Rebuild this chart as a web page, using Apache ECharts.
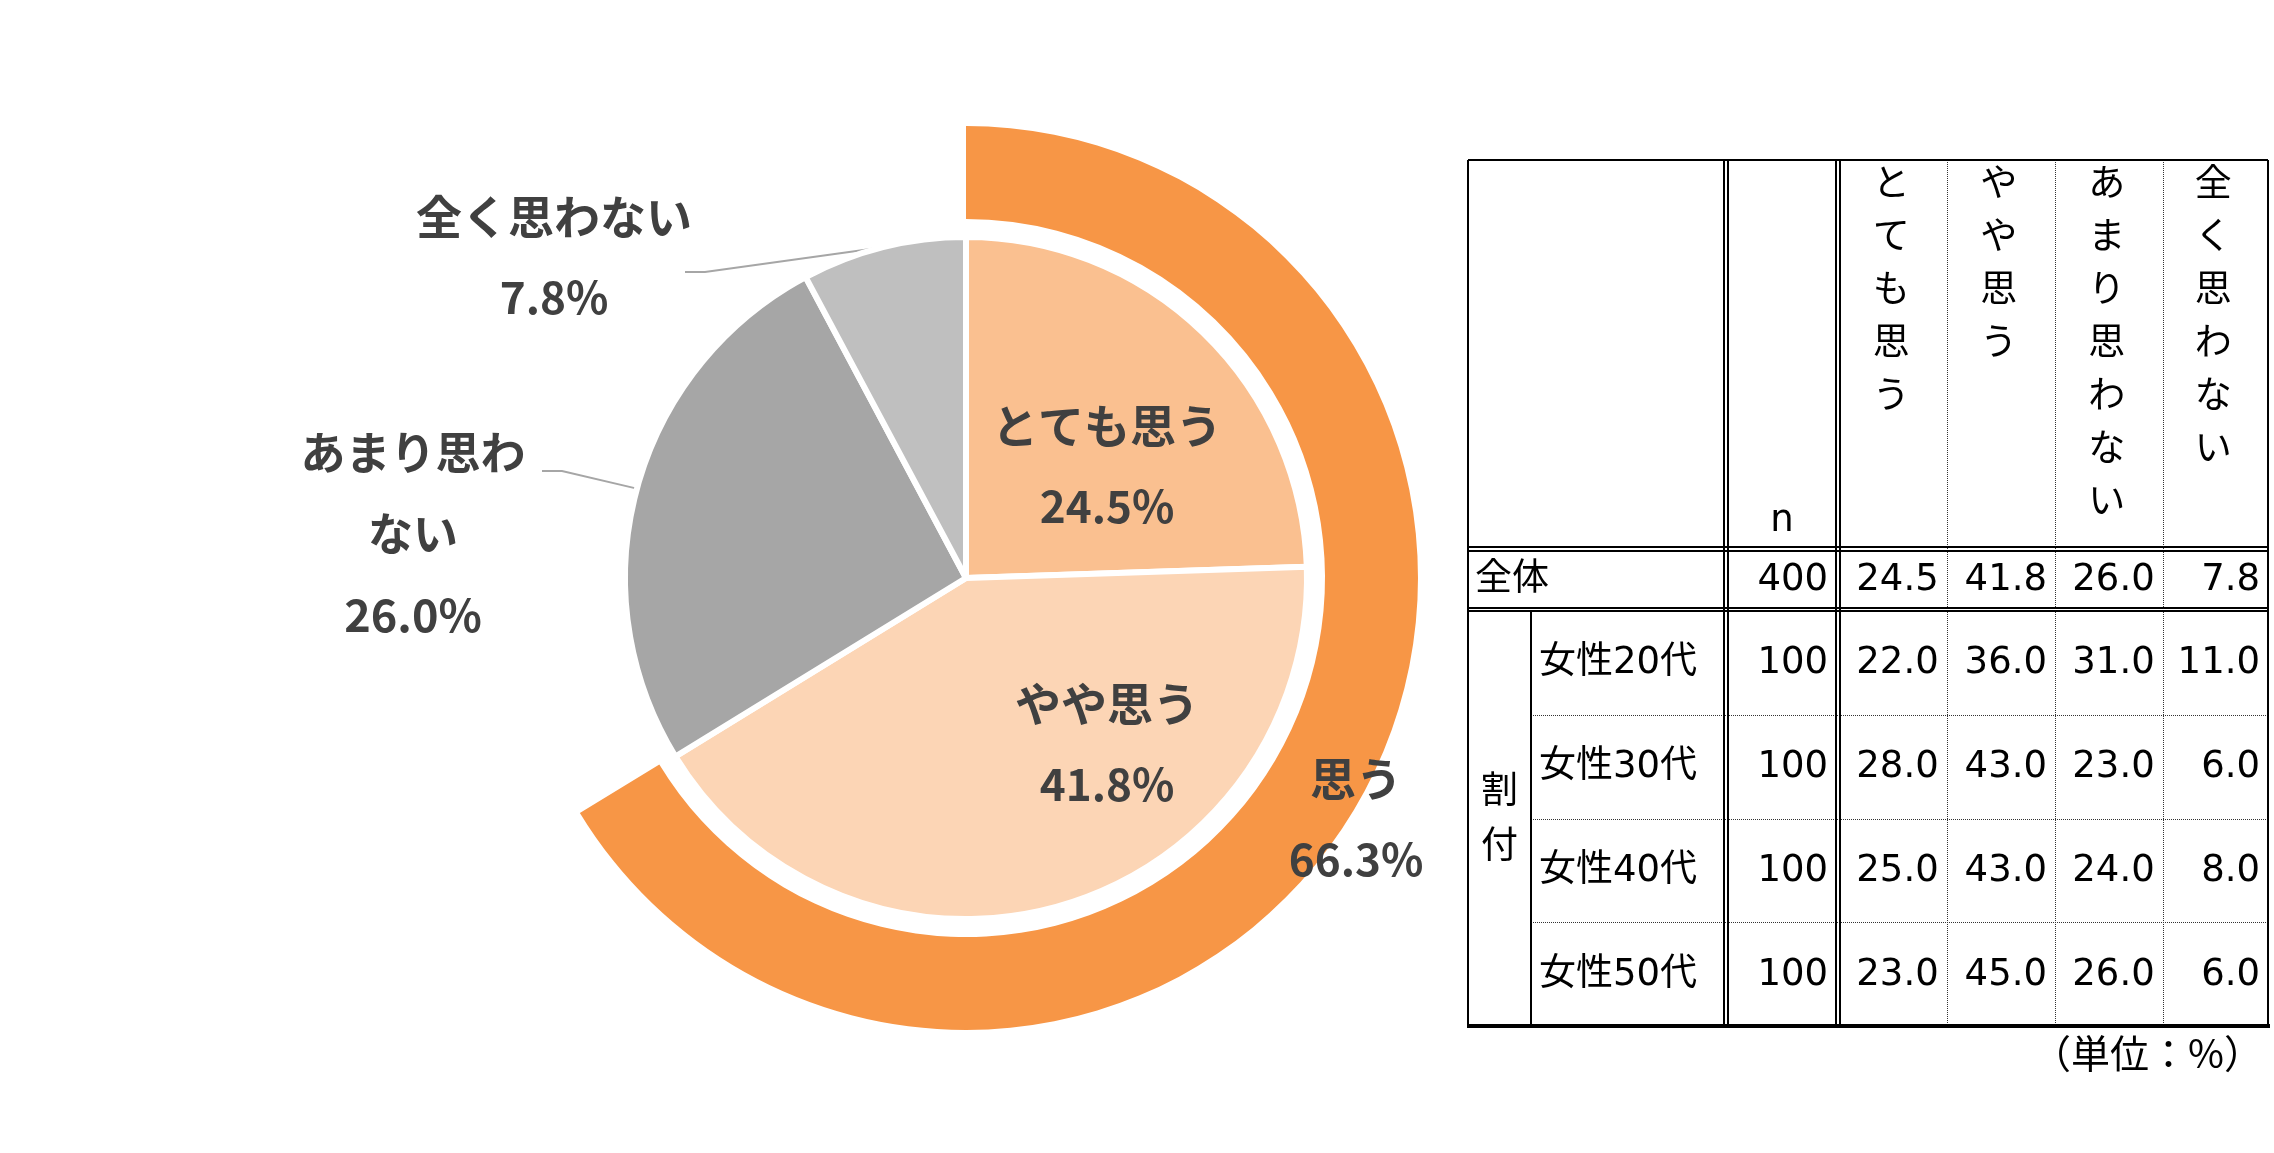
<!DOCTYPE html>
<html><head><meta charset="utf-8">
<script src="https://cdn.jsdelivr.net/npm/echarts@6/dist/echarts.min.js"></script>
<style>html,body{margin:0;padding:0;background:#fff}#chart{width:2274px;height:1153px}</style>
</head><body><div id="chart"></div>
<script>
// ---------------- data ----------------
const pieCategories = ['とても思う', 'やや思う', 'あまり思わない', '全く思わない'];
const pieValues = [24.5, 41.8, 26.0, 7.8];
const ringCategories = ['思う', ''];
const ringValues = [66.3, 33.7];

const tableColumns = ['とても思う', 'やや思う', 'あまり思わない', '全く思わない'];
const nHeader = 'n';
const totalLabel = '全体';
const totalN = 400;
const totalValues = [24.5, 41.8, 26.0, 7.8];
const groupLabel = '割付';
const groupRows = ['女性20代', '女性30代', '女性40代', '女性50代'];
const groupN = [100, 100, 100, 100];
const groupValues = [
  [22.0, 36.0, 31.0, 11.0],
  [28.0, 43.0, 23.0, 6.0],
  [25.0, 43.0, 24.0, 8.0],
  [23.0, 45.0, 26.0, 6.0]
];
const unitNote = '（単位：%）';

// ---------------- layout / style ----------------
const CX = 966, CY = 578;
const PIE_R = 341;
const RING_R = [359, 452];
const pieColors = ['#FAC090', '#FCD5B5', '#A6A6A6', '#BFBFBF'];
const ringColors = ['#F79646', 'rgba(0,0,0,0)'];
const labelColor = '#404040';
const pieLabelPos = [
  { x: 1107, y: 466 },
  { x: 1107, y: 744 },
  { x: 413, y: 534, width: 240 },
  { x: 554, y: 257 }
];
const pieLeader = [null, null,
  { bend: [562, 471], end: [542, 471] },
  { bend: [705, 272], end: [685, 272] }
];
const ringLabelPos = { x: 1356, y: 819 };

const T = {
  left: 1468, right: 2268, top: 160, bottom: 1026,
  groupRight: 1531,
  labelDbl: [1724, 1728],
  nDbl: [1836, 1840],
  dataCols: [1840, 1946.7, 2055, 2162.7, 2268],
  headDbl: [547, 551],
  totalDbl: [608, 611],
  rowTop: 611, rowH: 103.75
};
const TFONT = '37px "DejaVu Sans", "Noto Sans CJK JP"';

const fmt = v => v.toFixed(1);

// ---------------- table graphics ----------------
const g = [];
function line(x1, y1, x2, y2, w, dash, color) {
  g.push({ type: 'line', silent: true, shape: { x1, y1, x2, y2 },
    style: { stroke: color || '#000', lineWidth: w, lineDash: dash || null } });
}
function text(x, y, s, align, valign, extra) {
  g.push({ type: 'text', silent: true, x: x, y: y,
    style: Object.assign({ text: s, fill: '#000', font: TFONT,
      textAlign: align, textVerticalAlign: valign }, extra || {}) });
}
// dotted inner grid
for (let i = 1; i < groupRows.length; i++) {
  const y = Math.round(T.rowTop + i * T.rowH) + 0.5;
  line(T.groupRight, y, T.right, y, 1, [1, 1], '#333');
}
for (let c = 1; c < tableColumns.length; c++) {
  const x = Math.round(T.dataCols[c]) + 0.5;
  line(x, T.top, x, T.bottom, 1, [1, 1], '#333');
}
// borders
line(T.left, T.top, T.right, T.top, 2);
line(T.left, T.top, T.left, T.bottom, 2);
line(T.right, T.top, T.right, T.bottom, 2);
T.labelDbl.forEach(x => line(x, T.top, x, T.bottom, 2));
T.nDbl.forEach(x => line(x, T.top, x, T.bottom, 2));
T.headDbl.forEach(y => line(T.left, y, T.right, y, 2));
T.totalDbl.forEach(y => line(T.left, y, T.right, y, 2));
line(T.groupRight, T.rowTop, T.groupRight, T.bottom, 2);
line(T.left - 1, T.bottom, T.right + 2, T.bottom, 4);

// header texts (vertical)
tableColumns.forEach((s, c) => {
  const cx = (T.dataCols[c] + T.dataCols[c + 1]) / 2 - 2;
  text(cx, T.top, s.split('').join('\n'), 'center', 'top', { lineHeight: 53 });
});
text((T.labelDbl[1] + T.nDbl[0]) / 2, 521, nHeader, 'center', 'middle');

// total row
const totalY = (T.headDbl[1] + T.totalDbl[0]) / 2 + 1;
text(T.left + 7, totalY, totalLabel, 'left', 'middle');
text(T.nDbl[0] - 8, totalY, String(totalN), 'right', 'middle');
totalValues.forEach((v, c) => text(T.dataCols[c + 1] - 8, totalY, fmt(v), 'right', 'middle'));

// group rows
text((T.left + T.groupRight) / 2, T.rowTop + groupRows.length * T.rowH / 2 + 2, groupLabel.split('').join('\n'), 'center', 'middle', { lineHeight: 55 });
groupRows.forEach((name, r) => {
  const y = T.rowTop + (r + 0.5) * T.rowH + 1;
  text(T.groupRight + 8, y, name, 'left', 'middle');
  text(T.nDbl[0] - 8, y, String(groupN[r]), 'right', 'middle');
  groupValues[r].forEach((v, c) => text(T.dataCols[c + 1] - 8, y, fmt(v), 'right', 'middle'));
});
text(2263, 1053, unitNote, 'right', 'middle', { font: '39px "Noto Sans CJK JP"' });

// ---------------- chart ----------------
const richStyles = {
  n: { fontSize: 46, lineHeight: 81, fontWeight: 'bold', color: labelColor, fontFamily: '"Noto Sans CJK JP"' },
  v: { fontSize: 44, lineHeight: 81, fontWeight: 'bold', color: labelColor, fontFamily: '"Noto Sans CJK JP"' }
};
const labelBase = {
  show: true, color: labelColor, fontFamily: '"Noto Sans CJK JP"', fontWeight: 'bold',
  fontSize: 44, lineHeight: 81, align: 'center',
  formatter: p => '{n|' + p.name + '}\n{v|' + fmt(p.value) + '%}',
  rich: richStyles
};
const plainFormatter = p => p.name + '\n' + fmt(p.value) + '%';

const chart = echarts.init(document.getElementById('chart'), null, { renderer: 'canvas' });
chart.setOption({
  backgroundColor: '#ffffff',
  animation: false,
  graphic: g,
  series: [
    {
      type: 'pie', center: [CX, CY], radius: [0, PIE_R], startAngle: 90, clockwise: true,
      silent: true, avoidLabelOverlap: false,
      itemStyle: { borderColor: '#ffffff', borderWidth: 6 },
      label: labelBase,
      labelLine: { show: true, length: 20, length2: 20, lineStyle: { color: '#A6A6A6', width: 2 } },
      data: pieCategories.map((n, i) => ({
        name: n, value: pieValues[i],
        itemStyle: { color: pieColors[i] },
        label: pieLabelPos[i].width
          ? { position: 'outside', width: pieLabelPos[i].width, overflow: 'break',
              fontSize: 45, formatter: plainFormatter }
          : { position: i < 2 ? 'inside' : 'outside' },
        labelLine: { show: i >= 2 }
      })),
      labelLayout: function (p) {
        const L = pieLabelPos[p.dataIndex];
        const r = { x: L.x, y: L.y, align: 'center', verticalAlign: 'middle' };
        const ld = pieLeader[p.dataIndex];
        if (ld && p.labelLinePoints) {
          r.labelLinePoints = [p.labelLinePoints[0], ld.bend, ld.end];
        }
        return r;
      }
    },
    {
      type: 'pie', center: [CX, CY], radius: RING_R, startAngle: 90, clockwise: true,
      silent: true, avoidLabelOverlap: false,
      label: Object.assign({}, labelBase, { position: 'inside' }),
      labelLine: { show: false },
      data: ringCategories.map((n, i) => ({
        name: n, value: ringValues[i],
        itemStyle: { color: ringColors[i] },
        label: { show: i === 0 }
      })),
      labelLayout: function (p) {
        return p.dataIndex === 0
          ? { x: ringLabelPos.x, y: ringLabelPos.y, align: 'center', verticalAlign: 'middle' }
          : {};
      }
    }
  ]
});
</script>
</body></html>
